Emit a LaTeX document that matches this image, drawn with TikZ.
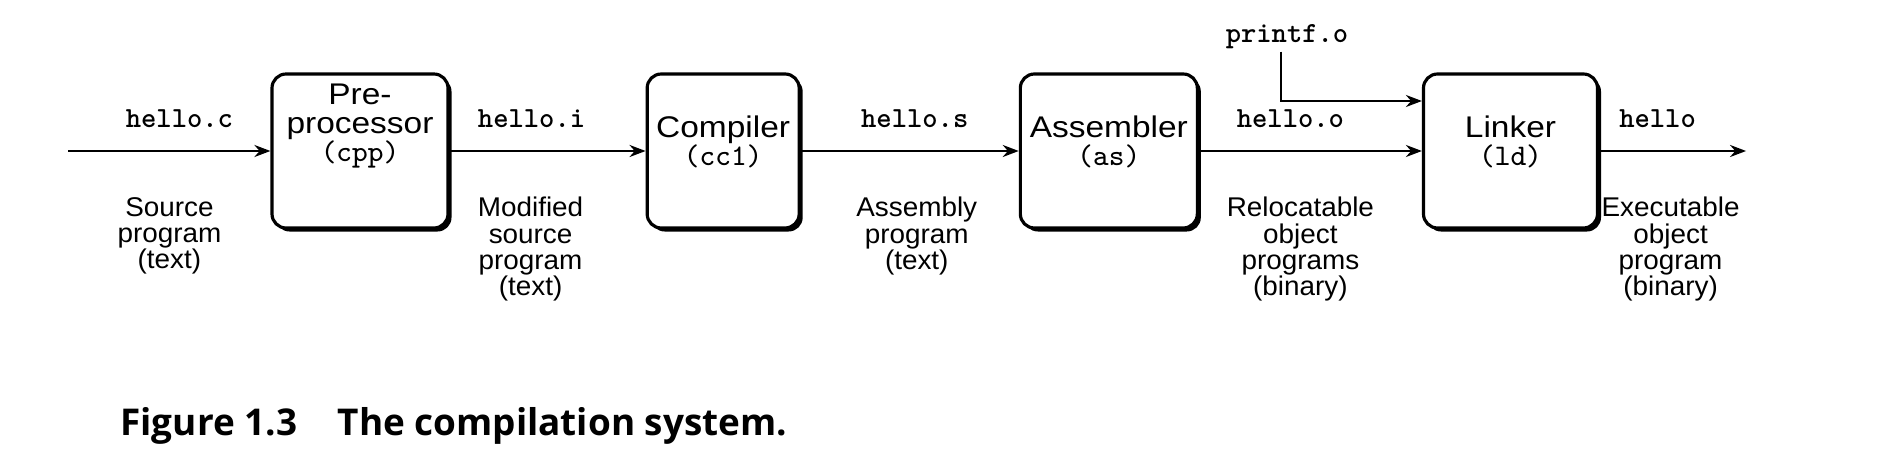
\documentclass[tikz,border=0pt]{standalone}
\usepackage{fontspec}
\setmainfont{Liberation Sans}[FakeStretch=1.03]
\newfontfamily\boxfont{Liberation Sans}[FakeStretch=1.12]
\newfontfamily\captionfont{Open Sans}
\usetikzlibrary{
  arrows.meta,
  positioning,
  shadows
}
\tikzset{
  stage/.style={
    draw,
    fill=white,
    rounded corners=4pt,
    line width=0.9pt,
    minimum height=1.54cm,
    drop shadow={shadow xshift=1pt, shadow yshift=-1pt, fill=black, opacity=1}
  },
  stagetext/.style={
    align=center,
    inner sep=0pt,
    font=\boxfont\fontsize{8.5}{8.1}\selectfont
  },
  flow/.style={
    -{Stealth[length=1.6mm,width=1.2mm]},
    line width=0.7pt
  },
  fname/.style={
    font=\fontsize{8.3}{9}\selectfont\ttfamily\bfseries,
    inner sep=0.5pt
  },
  desc/.style={
    align=center,
    inner sep=0pt,
    font=\fontsize{7.7}{7.5}\selectfont
  }
}

\begin{document}
\begin{tikzpicture}
  \useasboundingbox (0,0) rectangle (18.9,4.53);
  % the four tools of the chain
  \node[stage, minimum width=1.76cm] (cpp) at (3.60,3.02) {};
  \node[stage, minimum width=1.52cm, right=1.96cm of cpp] (cc1) {};
  \node[stage, minimum width=1.77cm, right=2.18cm of cc1] (as) {};
  \node[stage, minimum width=1.74cm, right=2.23cm of as] (ld) {};
  \node[stagetext, above=-1.8mm of cpp.center] (cpptxt) {Pre-\\processor\\\texttt{(cpp)}};
  \node[stagetext, above=-1.8mm of cc1.center] (cc1txt) {Compiler\\\texttt{(cc1)}};
  \node[stagetext, above=-1.8mm of as.center] (astxt) {Assembler\\\texttt{(as)}};
  \node[stagetext, above=-1.8mm of ld.center] (ldtxt) {Linker\\\texttt{(ld)}};
  \coordinate[left=2.02cm of cpp.west] (src);
  \coordinate[right=1.47cm of ld.east] (exe);
  \node[fname] (pf) at (12.87,4.16) {printf.o};
  % files passed along
  \draw[flow] (src) -- node[fname, above=2mm, xshift=1mm] (lc) {hello.c}
    node[desc, below=4.5mm] (dc) {Source\\program\\(text)} (cpp);
  \draw[flow] (cpp) -- node[fname, above=2mm, xshift=-1.6mm] (li) {hello.i}
    node[desc, below=4.5mm, xshift=-1.7mm] (di) {Modified\\source\\program\\(text)} (cc1);
  \draw[flow] (cc1) -- node[fname, above=2mm, xshift=0.5mm] (ls) {hello.s}
    node[desc, below=4.5mm, xshift=0.7mm] (ds) {Assembly\\program\\(text)} (as);
  \draw[flow] (as) -- node[fname, above=2mm, xshift=-2mm] (lo) {hello.o}
    node[desc, below=4.5mm, xshift=-1mm] (do) {Relocatable\\object\\programs\\(binary)} (ld);
  \draw[flow] (ld) -- node[fname, above=2mm, xshift=-1.5mm] (lx) {hello}
    node[desc, below=4.5mm, xshift=-0.2mm] (dx) {Executable\\object\\program\\(binary)} (exe);
  \draw[flow] ([xshift=-0.06cm]pf.south) |- ([yshift=0.5cm]ld.west);
  \node[anchor=west, font=\captionfont\fontsize{10.5}{12}\selectfont\bfseries] (cap)
    at (1.08,0.27) {Figure 1.3\hspace{1.1em}The compilation system.};
\end{tikzpicture}
\end{document}
